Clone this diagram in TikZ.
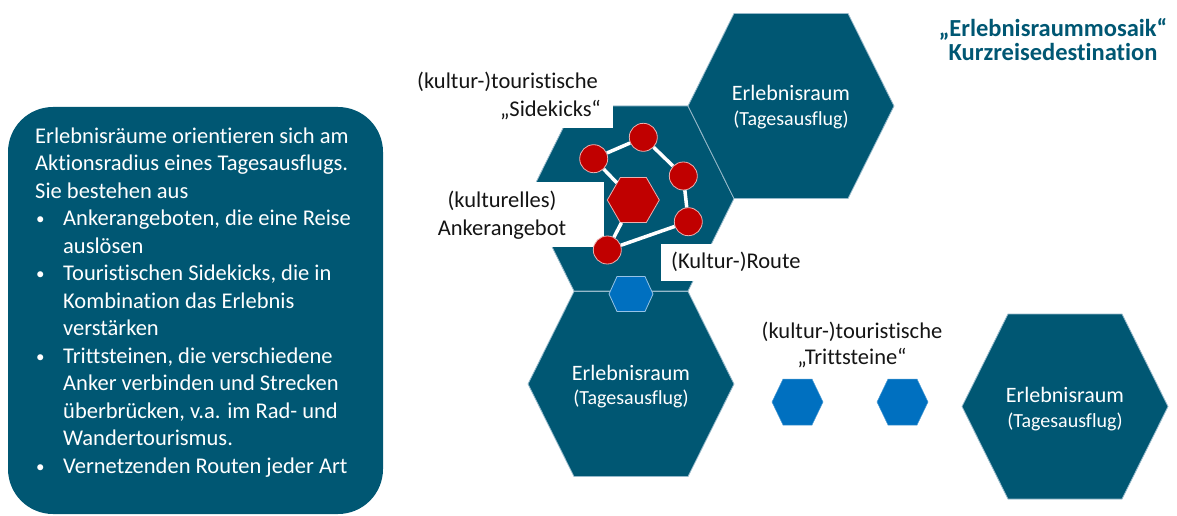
\documentclass[tikz,border=0pt]{standalone}
\usepackage{fontspec}
\setmainfont{Carlito}[Ligatures=NoCommon]
\usetikzlibrary{shapes.geometric}

\definecolor{petrol}{RGB}{0,87,115}
\definecolor{hexedge}{RGB}{150,185,202}
\definecolor{stoneblue}{RGB}{0,112,192}
\definecolor{stoneedge}{RGB}{150,195,230}
\definecolor{anchorred}{RGB}{192,0,0}
\definecolor{anchoredge}{RGB}{235,175,175}
\definecolor{labelink}{RGB}{20,20,20}

% flat-topped hexagon: style, centre x, centre y, half width, half top edge, half height
\newcommand\hexshape[6]{%
  \filldraw[#1] (#2-#4,#3) -- (#2-#5,#3-#6) -- (#2+#5,#3-#6) -- (#2+#4,#3)
    -- (#2+#5,#3+#6) -- (#2-#5,#3+#6) -- cycle;}

\tikzset{
  room/.style={fill=petrol, draw=hexedge, line width=0.8pt},
  stone/.style={fill=stoneblue, draw=stoneedge, line width=0.8pt},
  flatstone/.style={fill=stoneblue, draw=stoneblue!70!white, line width=0.5pt},
  roomtitle/.style={text=white, font=\fontsize{22}{26}\selectfont, anchor=base, inner sep=0pt},
  roomsub/.style={text=white, font=\fontsize{20}{24}\selectfont, anchor=base, inner sep=0pt},
  note/.style={text=labelink, font=\fontsize{22.5}{27.5}\selectfont, inner sep=0pt},
  desc/.style={text=white, font=\fontsize{22.5}{27.5}\selectfont, anchor=base west, inner sep=0pt},
  dot/.style={text=white, font=\fontsize{17}{20}\selectfont, anchor=base west, inner sep=0pt},
  descbox/.style={rectangle, rounded corners=45pt, fill=petrol, inner sep=0pt,
    minimum width=375pt, minimum height=407pt},
  spot/.style={circle, minimum size=28pt, inner sep=0pt, fill=anchorred,
    draw=anchoredge, line width=0.8pt},
  anchorhex/.style={regular polygon, regular polygon sides=6, minimum size=52pt,
    inner sep=0pt, fill=anchorred, draw=anchoredge, line width=0.8pt},
  link/.style={draw=white, line width=3.5pt},
  cover/.style={fill=white},
  headline/.style={text=petrol, font=\bfseries\fontsize{24.5}{28}\selectfont,
    anchor=base, inner sep=0pt},
}

\begin{document}
\begin{tikzpicture}[x=1pt, y=-1pt]
\useasboundingbox (0,0) rectangle (1177,516);

% --- description panel ---
\node[descbox] (desc) at (195.5,310.5) {};
\node[desc] (d1)  at (35,143)   {Erlebnisräume orientieren sich am};
\node[desc] (d2)  at (35,170.5) {Aktionsradius eines Tagesausflugs.};
\node[desc] (d3)  at (35,198)   {Sie bestehen aus};
\node[dot]  (b1)  at (36,224.5) {•};
\node[desc] (d4)  at (63,225.5) {Ankerangeboten, die eine Reise};
\node[desc] (d5)  at (63,253)   {auslösen};
\node[dot]  (b2)  at (36,279.5) {•};
\node[desc] (d6)  at (63,280.5) {Touristischen Sidekicks, die in};
\node[desc] (d7)  at (63,308)   {Kombination das Erlebnis};
\node[desc] (d8)  at (63,335.5) {verstärken};
\node[dot]  (b3)  at (36,362)   {•};
\node[desc] (d9)  at (63,363)   {Trittsteinen, die verschiedene};
\node[desc] (d10) at (63,390.5) {Anker verbinden und Strecken};
\node[desc] (d11) at (63,418)   {überbrücken, v.a. im Rad- und};
\node[desc] (d12) at (63,445.5) {Wandertourismus.};
\node[dot]  (b4)  at (36,472)   {•};
\node[desc] (d13) at (63,473)   {Vernetzenden Routen jeder Art};

% --- honeycomb of experience areas ---
\hexshape{room}{631}{198.5}{103}{57}{92.5}
\hexshape{room}{791}{106}{103}{57}{92.5}
\hexshape{room}{631}{384}{103}{57}{92.5}
\hexshape{room}{1065}{406.5}{103}{57}{92.5}

\coordinate (roomMid) at (631,198.5);
\coordinate (roomTop) at (791,106);
\coordinate (roomLow) at (631,384);
\coordinate (roomFar) at (1065,406.5);

\node[roomtitle] (tTop) at (791,101)   {Erlebnisraum};
\node[roomsub]   (sTop) at (791,125)   {(Tagesausflug)};
\node[roomtitle] (tLow) at (631,380)   {Erlebnisraum};
\node[roomsub]   (sLow) at (631,404)   {(Tagesausflug)};
\node[roomtitle] (tFar) at (1065,402)  {Erlebnisraum};
\node[roomsub]   (sFar) at (1065,427)  {(Tagesausflug)};

% --- white label backgrounds cutting into the middle hexagon ---
\fill[cover] (430,60) rectangle (613,128);
\fill[cover] (420,182) rectangle (604,247);
\fill[cover] (661,244) rectangle (812,281);

% --- route hexagon and stepping stones ---
\hexshape{stone}{631}{294}{22}{14}{17.5}
\hexshape{flatstone}{797.5}{402}{25.5}{14.5}{23}
\hexshape{flatstone}{902.5}{402}{25.5}{14.5}{23}

% --- anchor offer with its sidekicks ---
\node[anchorhex] (anchor) at (633.3,200) {};
\node[spot] (c1) at (593.7,158.7) {};
\node[spot] (c2) at (643.3,137.3) {};
\node[spot] (c3) at (683.3,176) {};
\node[spot] (c4) at (688.3,221.7) {};
\node[spot] (c5) at (607.3,250) {};
\draw[link] (c1) -- (c2);
\draw[link] (c2) -- (c3);
\draw[link] (c3) -- (c4);
\draw[link] (c4) -- (c5);
\draw[link] (c5) -- (anchor);
\draw[link] (anchor) -- (c1);

% --- labels ---
\node[note, anchor=base east] (sk1) at (598,89)  {(kultur-)touristische};
\node[note, anchor=base east] (sk2) at (601,117) {„Sidekicks“};
\node[note, anchor=base] (ak1) at (502,207) {(kulturelles)};
\node[note, anchor=base] (ak2) at (502,235) {Ankerangebot};
\node[note, anchor=base west] (route) at (671,268) {(Kultur-)Route};
\node[note, anchor=base] (ts1) at (852,338) {(kultur-)touristische};
\node[note, anchor=base] (ts2) at (852,364) {„Trittsteine“};

% --- heading ---
\node[headline] (h1) at (1053,37) {„Erlebnisraummosaik“};
\node[headline] (h2) at (1053,61) {Kurzreisedestination};
\end{tikzpicture}
\end{document}
